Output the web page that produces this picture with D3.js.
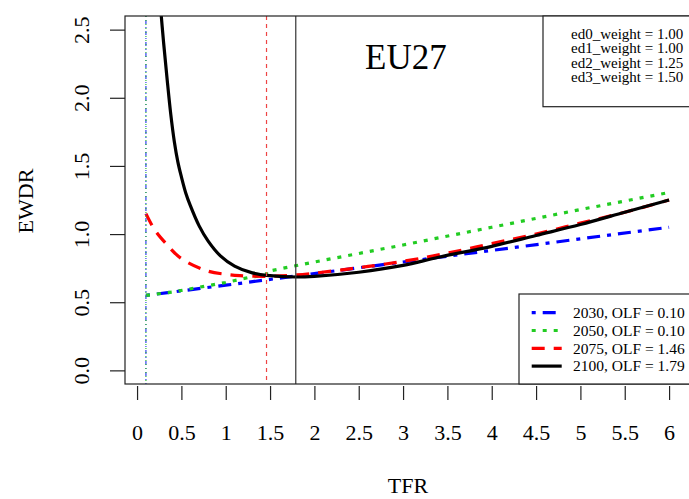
<!DOCTYPE html>
<html>
<head>
<meta charset="utf-8">
<script src="https://cdn.jsdelivr.net/npm/d3@7"></script>
<style>
  body { margin: 0; background: #fff; }
  text { font-family: "Liberation Serif", "Times New Roman", serif; fill: #000; }
</style>
</head>
<body>
<div id="chart"></div>
<script>
const width = 689
const height = 499

// series (TFR on x, EWDR on y)
const tfr2030 = [0.1, 1.0, 2.0, 3.0, 4.0, 5.0, 6.0];
const ewdr2030 = [0.55, 0.625, 0.71, 0.795, 0.88, 0.965, 1.05];

const tfr2050 = [0.1, 0.4, 0.7, 1.0, 1.25, 1.46, 1.46, 2.0, 3.0, 4.0, 5.0, 6.0];
const ewdr2050 = [0.55, 0.575, 0.61, 0.645, 0.68, 0.70, 0.725, 0.795, 0.92, 1.05, 1.18, 1.305];

const tfr2075 = [0.1, 0.2, 0.32, 0.5, 0.79, 1.0, 1.16, 1.46, 1.8, 2.4, 3.0, 3.5, 4.0, 4.5, 5.0, 5.5, 6.0];
const ewdr2075 = [1.15, 1.03, 0.935, 0.82, 0.73, 0.705, 0.695, 0.69, 0.70, 0.745, 0.80, 0.86, 0.93, 1.00, 1.08, 1.16, 1.25];

const tfr2100 = [0.26, 0.30, 0.34, 0.38, 0.42, 0.46, 0.50, 0.55, 0.60, 0.70, 0.80, 0.94, 1.10, 1.30, 1.50, 1.80, 2.0, 2.5, 3.0, 3.4, 4.0, 4.5, 5.0, 5.5, 6.0];
const ewdr2100 = [2.70, 2.40, 2.13, 1.88, 1.68, 1.53, 1.42, 1.30, 1.21, 1.06, 0.95, 0.84, 0.765, 0.715, 0.695, 0.685, 0.69, 0.72, 0.77, 0.83, 0.91, 0.99, 1.07, 1.16, 1.25];

const seriesNames = ['2030, OLF = 0.10', '2050, OLF = 0.10', '2075, OLF = 1.46', '2100, OLF = 1.79'];
const olfValues = [0.10, 0.10, 1.46, 1.79];
const weightLabels = ['ed0_weight = 1.00', 'ed1_weight = 1.00', 'ed2_weight = 1.25', 'ed3_weight = 1.50'];

const xTicks = [0, 0.5, 1, 1.5, 2, 2.5, 3, 3.5, 4, 4.5, 5, 5.5, 6];
const yTicks = [0, 0.5, 1, 1.5, 2, 2.5];

const colors = ['#0000ff', '#22cc22', '#ff0000', '#000000'];
const dashes = ['4,7,13,7', '4,7', '13,9', null];
const vColors = ['#3344ee', '#33bb33', '#ee4444', '#333333'];
const vDashes = ['1,3,4,3', '1,3', '4,4', null];

const margin = {left: 125, right: 690, top: 16, bottom: 384};

const svg = d3.select('#chart').append('svg').attr('width', width).attr('height', height);

const x = d3.scaleLinear().domain([-0.136, 6.236]).range([margin.left, margin.right]);
const y = d3.scaleLinear().domain([-0.1, 2.6]).range([margin.bottom, margin.top]);

svg.append('clipPath').attr('id', 'clip')
  .append('rect')
  .attr('x', margin.left).attr('y', margin.top)
  .attr('width', margin.right - margin.left).attr('height', margin.bottom - margin.top);

const plot = svg.append('g').attr('clip-path', 'url(#clip)');

const line = d3.line().x(d => x(d[0])).y(d => y(d[1]));

const series = [
  d3.zip(tfr2030, ewdr2030),
  d3.zip(tfr2050, ewdr2050),
  d3.zip(tfr2075, ewdr2075),
  d3.zip(tfr2100, ewdr2100)
];

series.forEach((s, i) => {
  plot.append('path')
    .datum(s)
    .attr('d', line.curve(i >= 2 ? d3.curveCatmullRom.alpha(0.5) : d3.curveLinear))
    .attr('fill', 'none')
    .attr('stroke', colors[i])
    .attr('stroke-width', 3.2)
    .attr('stroke-dasharray', dashes[i]);
});

// vertical OLF lines
olfValues.forEach((v, i) => {
  plot.append('line')
    .attr('x1', x(v)).attr('x2', x(v))
    .attr('y1', margin.top).attr('y2', margin.bottom)
    .attr('stroke', vColors[i])
    .attr('stroke-width', 1.2)
    .attr('stroke-dasharray', vDashes[i]);
});

// box
svg.append('rect')
  .attr('x', margin.left).attr('y', margin.top)
  .attr('width', margin.right - margin.left).attr('height', margin.bottom - margin.top)
  .attr('fill', 'none').attr('stroke', '#222').attr('stroke-width', 1.2);

// x axis
const xAxis = svg.append('g')
  .attr('transform', 'translate(0,386)')
  .call(d3.axisBottom(x).tickValues(xTicks).tickSize(14).tickPadding(24).tickFormat(d => String(d)));
xAxis.select('.domain').remove();
xAxis.selectAll('line').attr('stroke', '#222').attr('stroke-width', 1.2);
xAxis.selectAll('text').style('font-size', '22px').attr('fill', '#000');

// y axis
const yAxis = svg.append('g')
  .attr('transform', 'translate(' + margin.left + ',0)')
  .call(d3.axisLeft(y).tickValues(yTicks).tickSize(15).tickFormat(d3.format('.1f')));
yAxis.select('.domain').remove();
yAxis.selectAll('line').attr('stroke', '#222').attr('stroke-width', 1.2);
yAxis.selectAll('text')
  .attr('x', null).attr('dy', null)
  .attr('text-anchor', 'middle')
  .attr('transform', 'translate(-36.5,0) rotate(-90)')
  .style('font-size', '22px').attr('fill', '#000');

// axis titles
svg.append('text')
  .attr('transform', 'translate(33,201) rotate(-90)')
  .attr('text-anchor', 'middle')
  .style('font-size', '22px')
  .text('EWDR');

svg.append('text')
  .attr('x', 408).attr('y', 493)
  .attr('text-anchor', 'middle')
  .style('font-size', '22px')
  .text('TFR');

// title
svg.append('text')
  .attr('x', 365).attr('y', 69)
  .style('font-size', '35px')
  .text('EU27');

// weights box
svg.append('rect')
  .attr('x', 543).attr('y', margin.top)
  .attr('width', margin.right - 543).attr('height', 90.7)
  .attr('fill', '#fff').attr('stroke', '#222').attr('stroke-width', 1.2);

weightLabels.forEach((t, i) => {
  svg.append('text')
    .attr('x', 571).attr('y', 38.5 + i * 14.5)
    .style('font-size', '15px')
    .text(t);
});

// series legend
svg.append('rect')
  .attr('x', 519).attr('y', 294)
  .attr('width', margin.right - 519).attr('height', margin.bottom - 294)
  .attr('fill', '#fff').attr('stroke', '#222').attr('stroke-width', 1.2);

seriesNames.forEach((t, i) => {
  const ry = 312.7 + i * 17.8;
  svg.append('line')
    .attr('x1', 531.7).attr('x2', 561.7)
    .attr('y1', ry).attr('y2', ry)
    .attr('stroke', colors[i])
    .attr('stroke-width', 3.2)
    .attr('stroke-dasharray', dashes[i]);
  svg.append('text')
    .attr('x', 573).attr('y', ry + 5.2)
    .style('font-size', '15.5px')
    .text(t);
});
</script>
</body>
</html>
